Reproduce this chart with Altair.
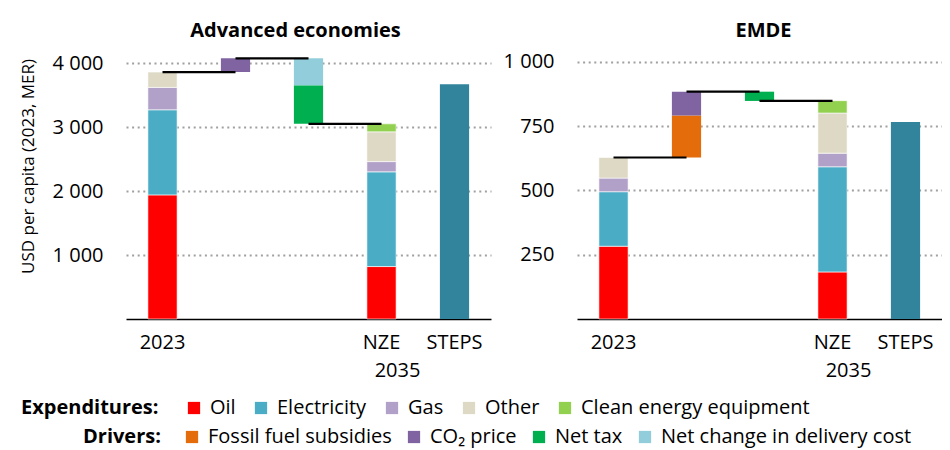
import altair as alt
import pandas as pd

FONT = "Open Sans"

categories = ["2023", "d1", "d2", "NZE", "STEPS"]

exp_series = ["Oil", "Electricity", "Gas", "Other", "Clean energy equipment"]
exp_colors = ["#FF0000", "#4BACC6", "#B1A0C7", "#DDD9C4", "#92D050"]
drv_series = ["Fossil fuel subsidies", "CO₂ price", "Net tax", "Net change in delivery cost"]
drv_colors = ["#E46C0A", "#8064A2", "#00B050", "#92CDDC"]
steps_color = "#31849B"

# Advanced economies (USD per capita)
ae_2023 = [1940, 1330, 350, 240, 0]
ae_d1 = [("CO₂ price", 215)]
ae_d2 = [("Net change in delivery cost", -425), ("Net tax", -600)]
ae_nze = [820, 1480, 160, 465, 125]
ae_steps = 3670
ae_ticks = [1000, 2000, 3000, 4000]

# EMDE (USD per capita)
em_2023 = [283, 212, 53, 80, 0]
em_d1 = [("Fossil fuel subsidies", 163), ("CO₂ price", 93)]
em_d2 = [("Net tax", -36)]
em_nze = [183, 409, 53, 156, 48]
em_steps = 766
em_ticks = [250, 500, 750, 1000]

W, H = 365, 270


def make_legend(title, x, y, ncol, tpad, cpad):
    return alt.Legend(
        orient="none", legendX=x, legendY=y, direction="horizontal", columns=ncol,
        title=title, titleOrient="left", titleFont=FONT, titleFontSize=20,
        titleFontWeight="bold", titleColor="black", titlePadding=tpad,
        labelFont=FONT, labelFontSize=20, labelColor="black", symbolType="square",
        symbolSize=150, symbolStrokeWidth=0, columnPadding=cpad, labelOffset=6,
        padding=0, labelLimit=400,
    )


exp_legend = make_legend("Expenditures:", -105, 349, 5, 25, 15)
drv_legend = make_legend("Drivers:", -43, 378, 4, 21, 12)


def panel(title, s2023, d1, d2, nze, steps, ymax, ticks, ytitle, tdx):
    rows = []
    base = 0
    for name, v in zip(exp_series, s2023):
        if v:
            rows.append(dict(cat="2023", series=name, y0=base, y1=base + v))
            base += v
    level = base
    connectors = [dict(c0="2023", c1="d1", v=level)]
    drows = []
    for name, v in d1:
        drows.append(dict(cat="d1", series=name, y0=level, y1=level + v))
        level += v
    connectors.append(dict(c0="d1", c1="d2", v=level))
    for name, v in d2:
        drows.append(dict(cat="d2", series=name, y0=level, y1=level + v))
        level += v
    connectors.append(dict(c0="d2", c1="NZE", v=level))
    base = 0
    for name, v in zip(exp_series, nze):
        rows.append(dict(cat="NZE", series=name, y0=base, y1=base + v))
        base += v
    exp_df = pd.DataFrame(rows)
    drv_df = pd.DataFrame(drows)
    steps_df = pd.DataFrame([dict(cat="STEPS", y0=0, y1=steps)])
    conn_df = pd.DataFrame(connectors)

    xscale = alt.Scale(domain=categories, paddingInner=0.6, paddingOuter=0.3)
    yscale = alt.Scale(domain=[0, ymax], nice=False)
    xaxis = alt.Axis(
        title=None, labelAngle=0, ticks=False, domainColor="black", domainWidth=1.5,
        labelFont=FONT, labelFontSize=20, labelColor="black", labelPadding=13,
        labelExpr="datum.label == 'd1' || datum.label == 'd2' ? '' : datum.label",
    )
    yargs = dict(
        values=ticks, ticks=False, domain=False,
        labelFont=FONT, labelFontSize=20, labelColor="black", labelPadding=23,
        labelExpr="replace(format(datum.value, ','), ',', ' ')",
        grid=True, gridColor="#A0A0A0", gridDash=[2, 3.6], gridWidth=2,
    )
    if ytitle:
        yaxis = alt.Axis(title=ytitle, titleFont=FONT, titleFontSize=17,
                         titleFontWeight="normal", titleColor="black",
                         titlePadding=15, titleY=117, **yargs)
    else:
        yaxis = alt.Axis(title=None, **yargs)

    bars = alt.Chart(exp_df).mark_bar(stroke="white", strokeWidth=0.6).encode(
        x=alt.X("cat:N", scale=xscale, axis=xaxis, sort=categories),
        y=alt.Y("y0:Q", scale=yscale, axis=yaxis),
        y2="y1:Q",
        color=alt.Color("series:N", scale=alt.Scale(domain=exp_series, range=exp_colors),
                        legend=exp_legend),
    )
    dbars = alt.Chart(drv_df).mark_bar().encode(
        x=alt.X("cat:N", sort=categories),
        y="y0:Q",
        y2="y1:Q",
        fill=alt.Fill("series:N", scale=alt.Scale(domain=drv_series, range=drv_colors),
                      legend=drv_legend),
    )
    sbar = alt.Chart(steps_df).mark_bar(color=steps_color).encode(
        x=alt.X("cat:N", sort=categories),
        y="y0:Q",
        y2="y1:Q",
    )
    rules = alt.Chart(conn_df).mark_rule(color="black", strokeWidth=2.2).encode(
        x=alt.X("c0:N", bandPosition=0.5),
        x2=alt.X2("c1:N", bandPosition=0.5),
        y="v:Q",
    )
    sub = alt.Chart(pd.DataFrame([dict(cat="NZE", label="2035")])).mark_text(
        font=FONT, fontSize=20, color="black", baseline="middle", dx=16
    ).encode(
        x=alt.X("cat:N", sort=categories),
        y=alt.value(H + 52),
        text="label:N",
    )
    return alt.layer(bars, dbars, sbar, rules, sub).properties(
        width=W, height=H,
        title=alt.TitleParams(title, font=FONT, fontSize=20, fontWeight="bold",
                              color="black", anchor="middle", dx=tdx, offset=8),
    )


left = panel("Advanced economies", ae_2023, ae_d1, ae_d2, ae_nze, ae_steps,
             4220, ae_ticks, "USD per capita (2023, MER)", -13)
right = panel("EMDE", em_2023, em_d1, em_d2, em_nze, em_steps,
              1050, em_ticks, None, 4)

chart = alt.hconcat(left, right, spacing=12).properties(
    padding={"left": 11, "top": 13, "right": 0, "bottom": 3},
    background="white",
).configure_view(stroke=None)

chart.save("out.html", embed_options={"renderer": "svg", "actions": False})
